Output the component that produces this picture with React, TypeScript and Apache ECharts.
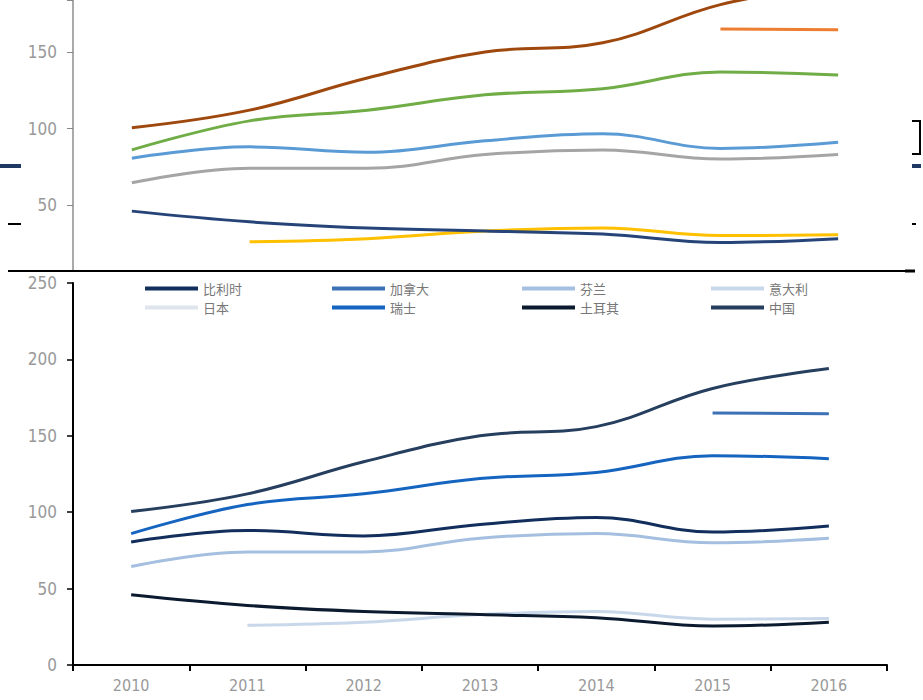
import React, { useEffect, useRef } from "react";
import * as echarts from "echarts";

const years = ["2010", "2011", "2012", "2013", "2014", "2015", "2016"];
const seriesNames = ["比利时", "加拿大", "芬兰", "意大利", "日本", "瑞士", "土耳其", "中国"];

const belgium = [80.5, 88, 84.5, 92, 96.5, 87, 91];
const canada = [null, null, null, null, null, 165, 164.5];
const finland = [64.5, 74, 74, 83, 86, 80, 83];
const italy = [null, 26, 28, 33, 35, 30, 30.5];
const japan = [null, null, null, null, null, null, null];
const switzerland = [86, 105, 112, 122, 126, 137, 135];
const turkey = [46, 39, 35, 33, 31, 25.5, 28];
const china = [100.5, 112, 133, 150, 156, 181, 194];

const allData = [belgium, canada, finland, italy, japan, switzerland, turkey, china];

const topColors = ["#5B9BD5", "#ED7D31", "#A5A5A5", "#FFC000", "#4472C4", "#70AD47", "#264478", "#9E480E"];
const bottomColors = ["#112e5c", "#3c72b5", "#a4bfdf", "#c8d8ea", "#dfe5ec", "#1565c0", "#0b1a2e", "#263f5f"];

const topLabels = [50, 100, 150];

const legendPos = [
  [140, 277], [327, 277], [517, 277], [706, 277],
  [140, 296], [327, 296], [517, 296], [706, 296],
];

const labelFont = "'Liberation Sans Narrow', 'DejaVu Sans Condensed', sans-serif";

export default function App() {
  const ref = useRef<HTMLDivElement>(null);
  useEffect(() => {
    if (!ref.current) return;
    const chart = echarts.init(ref.current, undefined, { renderer: "svg" });

    const topSeries = allData.map((d, i) => ({
      name: seriesNames[i] + "_top",
      type: "line",
      xAxisIndex: 0,
      yAxisIndex: 0,
      data: d,
      smooth: 0.4,
      showSymbol: false,
      symbol: "none",
      clip: true,
      lineStyle: { color: topColors[i], width: 3 },
      itemStyle: { color: topColors[i] },
      z: 2,
    }));
    const bottomSeries = allData.map((d, i) => ({
      name: seriesNames[i],
      type: "line",
      xAxisIndex: 1,
      yAxisIndex: 1,
      data: d,
      smooth: 0.4,
      showSymbol: false,
      symbol: "none",
      lineStyle: { color: bottomColors[i], width: 3 },
      itemStyle: { color: bottomColors[i] },
      z: 100,
    }));

    const legends = seriesNames.map((n, i) => ({
      data: [n],
      left: legendPos[i][0],
      top: legendPos[i][1],
      icon: "rect",
      itemWidth: 53,
      itemHeight: 4,
      itemGap: 7,
      z: 100,
      textStyle: { fontFamily: "'Noto Sans CJK SC', sans-serif", fontSize: 13, color: "#777" },
      selectedMode: false,
    }));

    const navy = "#1f3864";
    chart.setOption({
      animation: false,
      backgroundColor: "#ffffff",
      grid: [
        { left: 73, top: 0, width: 824, height: 281.5, containLabel: false },
        { left: 73, top: 283, width: 814, height: 382, containLabel: false },
      ],
      xAxis: [
        { type: "category", gridIndex: 0, data: years, show: false },
        {
          type: "category",
          gridIndex: 1,
          data: years,
          z: 100,
          axisLine: { lineStyle: { color: "#000", width: 2 } },
          axisTick: { show: true, length: 6, lineStyle: { color: "#000", width: 2 } },
          axisLabel: { color: "#999", fontSize: 16, fontFamily: labelFont, margin: 12 },
        },
      ],
      yAxis: [
        {
          type: "value",
          gridIndex: 0,
          min: 0,
          max: 184,
          interval: 50,
          splitLine: { show: false },
          axisLine: { show: true, lineStyle: { color: "#aaa", width: 2 } },
          axisTick: { show: true, length: 6, lineStyle: { color: "#888" } },
          axisLabel: {
            color: "#999",
            fontSize: 17,
            fontFamily: labelFont,
            margin: 16,
            formatter: (v: number) => (topLabels.indexOf(v) >= 0 ? String(v) : ""),
          },
        },
        {
          type: "value",
          gridIndex: 1,
          min: 0,
          max: 250,
          interval: 50,
          z: 100,
          splitLine: { show: false },
          axisLine: { show: true, lineStyle: { color: "#000", width: 2 } },
          axisTick: { show: true, length: 6, lineStyle: { color: "#000", width: 1.5 } },
          axisLabel: { color: "#999", fontSize: 17, fontFamily: labelFont, margin: 16 },
        },
      ],
      legend: legends,
      graphic: [
        { type: "rect", z: 50, shape: { x: 0, y: 272, width: 923, height: 428 }, style: { fill: "#ffffff" } },
        { type: "line", z: 60, shape: { x1: 8, y1: 271, x2: 905, y2: 271 }, style: { stroke: "#000", lineWidth: 2 } },
        { type: "line", z: 60, shape: { x1: 905, y1: 271, x2: 915, y2: 271 }, style: { stroke: "#000", lineWidth: 3 } },
        { type: "line", z: 60, shape: { x1: 0, y1: 166, x2: 21, y2: 166 }, style: { stroke: navy, lineWidth: 4 } },
        { type: "line", z: 60, shape: { x1: 912, y1: 166, x2: 921, y2: 166 }, style: { stroke: navy, lineWidth: 4 } },
        { type: "line", z: 60, shape: { x1: 8, y1: 224, x2: 21, y2: 224 }, style: { stroke: "#000", lineWidth: 2 } },
        { type: "line", z: 60, shape: { x1: 912, y1: 224, x2: 916, y2: 224 }, style: { stroke: "#000", lineWidth: 2 } },
        {
          type: "polyline",
          z: 60,
          shape: { points: [[912, 121], [920, 121], [920, 154], [912, 154]] },
          style: { stroke: "#000", lineWidth: 2, fill: "none" },
        },
      ],
      series: [...topSeries, ...bottomSeries],
    });
    return () => chart.dispose();
  }, []);
  return (
    <div
      ref={ref}
      style={{ position: "absolute", left: 0, top: 0, width: 923, height: 700 }}
    />
  );
}
